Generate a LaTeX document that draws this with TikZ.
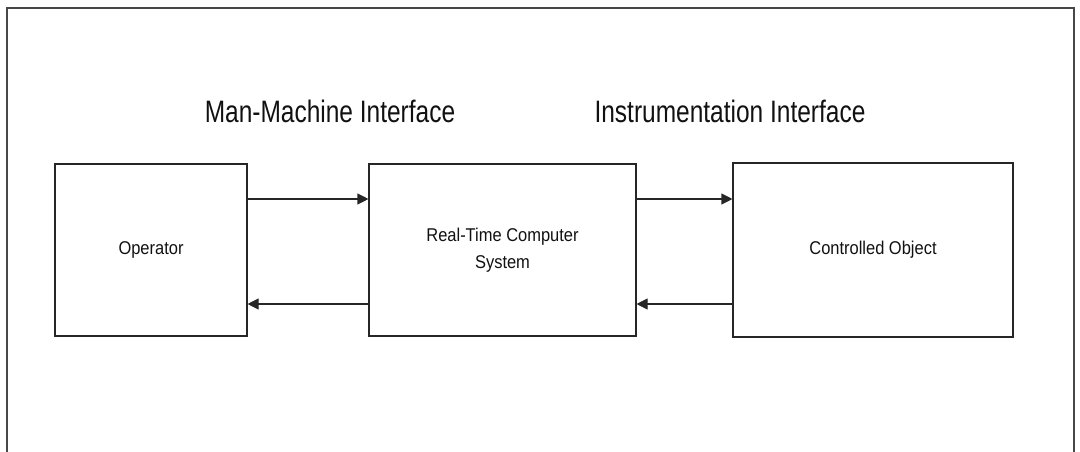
\documentclass[tikz,border=0pt]{standalone}
\usepackage{fontspec}
\setmainfont{Liberation Sans}
\newfontfamily\headfont[FakeStretch=0.79]{Liberation Sans}
\newfontfamily\boxfont[FakeStretch=0.89]{Liberation Sans}
\usetikzlibrary{arrows.meta}
\definecolor{ink}{HTML}{262626}
\definecolor{letters}{HTML}{111111}
\tikzset{
  block/.style={draw=ink, line width=1.1pt, inner sep=0pt, align=center,
    font=\boxfont\fontsize{18.5}{27}\selectfont, text=letters},
  heading/.style={anchor=base, inner sep=0pt, text=letters,
    font=\headfont\fontsize{31}{36}\selectfont},
  flow/.style={draw=ink, line width=1.1pt, -{Triangle[length=11pt,width=11pt]}},
  frame/.style={draw=ink!85, line width=1.6pt}
}
\begin{document}
\begin{tikzpicture}[x=1pt,y=-1pt]
  \useasboundingbox (0,0) rectangle (1080,452);
  % outer frame, open at the bottom
  \draw[frame] (7,460) -- (7,8) -- (1074,8) -- (1074,460);
  % headings
  \node[heading] (mmi) at (330,122) {Man-Machine Interface};
  \node[heading] (ii) at (730,122) {Instrumentation Interface};
  % blocks
  \node[block, minimum width=192pt, minimum height=172pt] (op) at (151,250) {Operator};
  \node[block, minimum width=267pt, minimum height=172pt] (rt) at (502.5,250) {Real-Time Computer\\System};
  \node[block, minimum width=280pt, minimum height=174pt] (co) at (873,250) {Controlled Object};
  % signal paths: commands go right above, feedback returns left below
  \draw[flow] ([yshift=51pt]op.east) -- ([yshift=51pt]rt.west);
  \draw[flow] ([yshift=-54pt]rt.west) -- ([yshift=-54pt]op.east);
  \draw[flow] ([yshift=51pt]rt.east) -- ([yshift=51pt]co.west);
  \draw[flow] ([yshift=-54pt]co.west) -- ([yshift=-54pt]rt.east);
\end{tikzpicture}
\end{document}
